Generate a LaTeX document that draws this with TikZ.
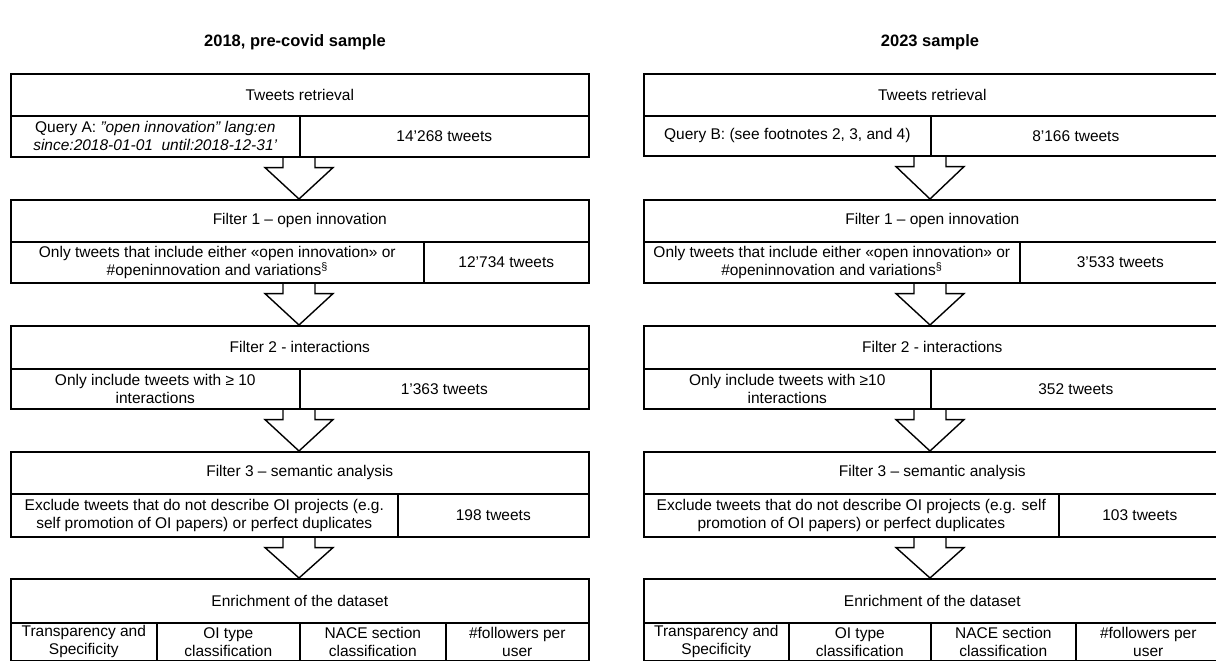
\documentclass[tikz,border=0pt]{standalone}
\usepackage{fontspec}
\setmainfont{Liberation Sans}
\usetikzlibrary{calc}

\begin{document}
\begin{tikzpicture}[x=1pt, y=-1pt,
    box/.style={draw, line width=1.6pt, anchor=north west, inner sep=0pt, align=center, font=\fontsize{15.5}{18}\selectfont},
    bigarrow/.style={draw, line width=1.4pt, line join=miter},
    title/.style={font=\fontsize{16.5}{20}\selectfont\bfseries}]

    \useasboundingbox (0,0) rectangle (1216,661);

    \node[title] (ltitle) at (295,42) {2018, pre-covid sample};
    \node[title] (rtitle) at (930,42) {2023 sample};

    % 2018 column
    \node[box, minimum width=578pt, minimum height=42pt] (l1h) at (10,73) {Tweets retrieval};
    \node[box, minimum width=289pt, minimum height=41pt] (l1q) at (10,115) {Query A: \textit{"open innovation" lang:en}\\\textit{since:2018-01-01\ \ until:2018-12-31'}};
    \node[box, minimum width=289pt, minimum height=41pt] (l1n) at (299,115) {14'268 tweets};

    \node[box, minimum width=578pt, minimum height=42pt] (l2h) at (10,199) {Filter 1 – open innovation};
    \node[box, minimum width=413pt, minimum height=41pt] (l2q) at (10,241) {Only tweets that include either «open innovation» or\\\#openinnovation and variations\textsuperscript{§}};
    \node[box, minimum width=165pt, minimum height=41pt] (l2n) at (423,241) {12'734 tweets};

    \node[box, minimum width=578pt, minimum height=43pt] (l3h) at (10,325) {Filter 2 - interactions};
    \node[box, minimum width=289pt, minimum height=40pt] (l3q) at (10,368) {Only include tweets with ≥ 10\\interactions};
    \node[box, minimum width=289pt, minimum height=40pt] (l3n) at (299,368) {1'363 tweets};

    \node[box, minimum width=578pt, minimum height=42pt] (l4h) at (10,451) {Filter 3 – semantic analysis};
    \node[box, minimum width=387pt, minimum height=43pt] (l4q) at (10,493) {Exclude tweets that do not describe OI projects (e.g.\\self promotion of OI papers) or perfect duplicates};
    \node[box, minimum width=191pt, minimum height=43pt] (l4n) at (397,493) {198 tweets};

    \node[box, minimum width=578pt, minimum height=44pt] (l5h) at (10,578) {Enrichment of the dataset};
    \foreach \pos/\w/\name/\txt in {{(10,622)/146pt/l5a/Transparency and\\Specificity}, {(156,622)/143pt/l5b/OI type\\classification},
                                   {(299,622)/146pt/l5c/NACE section\\classification}, {(445,622)/143pt/l5d/\#followers per\\user}}
        \node[box, minimum width=\w, minimum height=38pt] (\name) at \pos {\txt};

    % 2023 column
    \node[box, minimum width=577pt, minimum height=42pt] (r1h) at (643,73) {Tweets retrieval};
    \node[box, minimum width=287pt, minimum height=40pt] (r1q) at (643,115) {Query B: (see footnotes 2, 3, and 4)};
    \node[box, minimum width=290pt, minimum height=40pt] (r1n) at (930,115) {8'166 tweets};

    \node[box, minimum width=577pt, minimum height=42pt] (r2h) at (643,199) {Filter 1 – open innovation};
    \node[box, minimum width=376pt, minimum height=41pt] (r2q) at (643,241) {Only tweets that include either «open innovation» or\\\#openinnovation and variations\textsuperscript{§}};
    \node[box, minimum width=201pt, minimum height=41pt] (r2n) at (1019,241) {3'533 tweets};

    \node[box, minimum width=577pt, minimum height=43pt] (r3h) at (643,325) {Filter 2 - interactions};
    \node[box, minimum width=287pt, minimum height=40pt] (r3q) at (643,368) {Only include tweets with ≥10\\interactions};
    \node[box, minimum width=290pt, minimum height=40pt] (r3n) at (930,368) {352 tweets};

    \node[box, minimum width=577pt, minimum height=42pt] (r4h) at (643,451) {Filter 3 – semantic analysis};
    \node[box, minimum width=415pt, minimum height=43pt] (r4q) at (643,493) {Exclude tweets that do not describe OI projects (e.g. self\\promotion of OI papers) or perfect duplicates};
    \node[box, minimum width=162pt, minimum height=43pt] (r4n) at (1058,493) {103 tweets};

    \node[box, minimum width=577pt, minimum height=44pt] (r5h) at (643,578) {Enrichment of the dataset};
    \foreach \pos/\w/\name/\txt in {{(643,622)/145pt/r5a/Transparency and\\Specificity}, {(788,622)/142pt/r5b/OI type\\classification},
                                   {(930,622)/145pt/r5c/NACE section\\classification}, {(1075,622)/145pt/r5d/\#followers per\\user}}
        \node[box, minimum width=\w, minimum height=38pt] (\name) at \pos {\txt};

    \coordinate (lax) at (299,0);
    \coordinate (rax) at (930,0);

    \foreach \a/\b/\c in {l1q/l2h/lax, l2q/l3h/lax, l3q/l4h/lax, l4q/l5h/lax,
                          r1q/r2h/rax, r2q/r3h/rax, r3q/r4h/rax, r4q/r5h/rax}
        \draw[bigarrow] ($(\a.south -| \c)+(-16,0)$) -- ++(0,10) -- ++(-18,0) -- (\b.north -| \c)
            -- ($(\a.south -| \c)+(34,10)$) -- ++(-18,0) -- ++(0,-10);

\end{tikzpicture}
\end{document}
